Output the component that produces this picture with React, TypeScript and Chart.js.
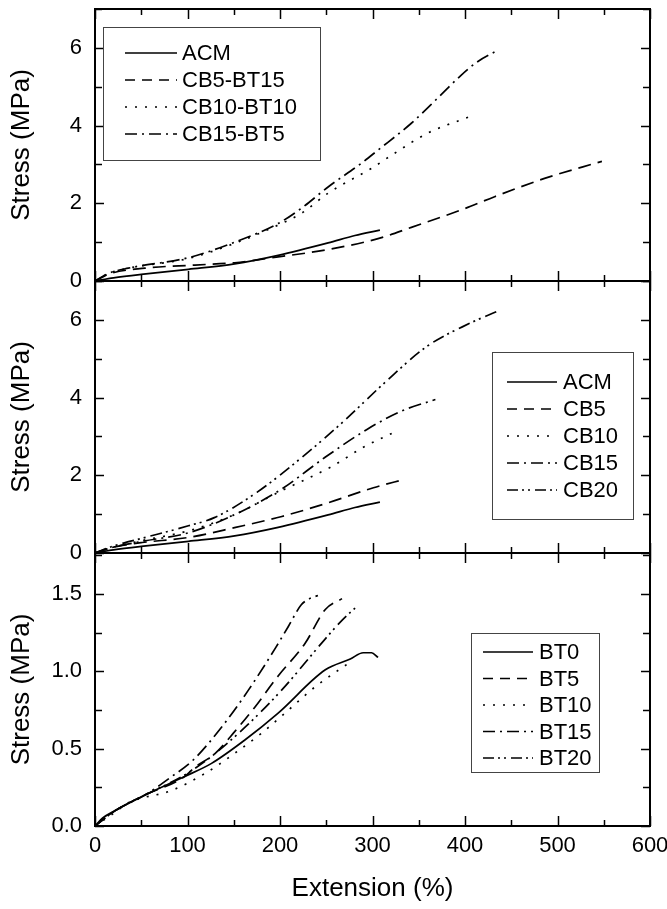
import React, { useEffect, useRef } from "react";
import { Chart, registerables } from "chart.js";

Chart.register(...registerables);

const FONT = "'Liberation Sans', Arial, Helvetica, sans-serif";

// ---------- data ----------
// shared x-axis
const xTicks = [0, 100, 200, 300, 400, 500, 600];

// Panel 1 and 2: ACM
const acmX = [0, 20, 50, 101, 151, 198, 252, 281, 308];
const acmY = [0, 0.08, 0.17, 0.3, 0.44, 0.66, 0.98, 1.17, 1.31];

// Panel 1
const cb5bt15X = [0, 15, 54, 108, 151, 198, 252, 306, 342, 396, 432, 486, 548];
const cb5bt15Y = [0, 0.18, 0.33, 0.41, 0.47, 0.62, 0.81, 1.09, 1.38, 1.83, 2.17, 2.64, 3.08];
const cb10bt10X = [0, 15, 36, 101, 151, 198, 223, 252, 299, 324, 360, 404];
const cb10bt10Y = [0, 0.2, 0.33, 0.58, 0.97, 1.44, 1.74, 2.26, 2.9, 3.29, 3.81, 4.22];
const cb15bt5X = [0, 15, 36, 101, 151, 198, 223, 252, 288, 306, 342, 371, 396, 414, 434];
const cb15bt5Y = [0, 0.2, 0.33, 0.6, 1.0, 1.48, 1.87, 2.42, 3.03, 3.37, 4.06, 4.72, 5.3, 5.65, 5.92];

// Panel 2
const cb5X = [0, 15, 28, 51, 101, 152, 202, 253, 301, 335];
const cb5Y = [0, 0.12, 0.19, 0.27, 0.4, 0.66, 0.94, 1.3, 1.68, 1.9];
const cb10X = [0, 20, 51, 101, 150, 198, 257, 290, 322];
const cb10Y = [0, 0.15, 0.32, 0.57, 0.98, 1.56, 2.24, 2.72, 3.09];
const cb15X = [0, 20, 51, 101, 152, 202, 248, 294, 331, 368];
const cb15Y = [0, 0.15, 0.3, 0.52, 1.0, 1.65, 2.45, 3.18, 3.65, 3.95];
const cb20X = [0, 20, 51, 101, 129, 175, 221, 267, 313, 359, 405, 434];
const cb20Y = [0, 0.18, 0.38, 0.7, 0.91, 1.56, 2.41, 3.35, 4.38, 5.32, 5.91, 6.21];

// Panel 3
const bt0X = [0, 8, 22, 54, 97, 126, 162, 198, 249, 276, 290, 299, 306];
const bt0Y = [0, 0.05, 0.1, 0.2, 0.32, 0.405, 0.556, 0.73, 1.01, 1.08, 1.12, 1.12, 1.09];
const bt5X = [0, 22, 54, 97, 108, 130, 151, 173, 198, 227, 249, 267];
const bt5Y = [0, 0.1, 0.2, 0.32, 0.38, 0.47, 0.61, 0.77, 0.97, 1.18, 1.4, 1.47];
const bt10X = [0, 22, 36, 83, 119, 151, 180, 213, 238, 276];
const bt10Y = [0, 0.09, 0.15, 0.23, 0.34, 0.47, 0.6, 0.77, 0.9, 1.06];
const bt15X = [0, 22, 54, 83, 105, 137, 166, 195, 209, 223, 232, 241];
const bt15Y = [0, 0.1, 0.2, 0.32, 0.42, 0.64, 0.88, 1.15, 1.29, 1.43, 1.47, 1.49];
const bt20X = [0, 22, 54, 97, 126, 166, 202, 249, 267, 285];
const bt20Y = [0, 0.1, 0.2, 0.33, 0.45, 0.66, 0.88, 1.21, 1.33, 1.43];

const labels1 = ["ACM", "CB5-BT15", "CB10-BT10", "CB15-BT5"];
const labels2 = ["ACM", "CB5", "CB10", "CB15", "CB20"];
const labels3 = ["BT0", "BT5", "BT10", "BT15", "BT20"];

// ---------- styles ----------
const DASHES: number[][] = [[], [13, 7], [2, 8], [13, 5, 2, 5], [12, 4, 2, 4, 2, 5]];
const LEGEND_DASHES: number[][] = [[], [10, 7], [2, 8], [12, 5, 2, 5], [11, 4, 2, 4, 2, 5]];

type Legend = {
  left: number; top: number; right: number; bottom: number;
  firstRow: number; rowStep: number; lineStart: number; lineEnd: number; textX: number;
};

type PanelSpec = {
  canvasTop: number; canvasHeight: number; padTop: number; plotBottom: number;
  yMax: number; yMajor: number; yMinor: number; decimals: number;
  showX: boolean; labels: string[]; xs: number[][]; ys: number[][]; legend: Legend;
};

const CANVAS_W = 720;

const framePlugin = {
  id: "frameTicks",
  afterDatasetsDraw(chart: any) {
    const o = chart.options.plugins.frameTicks;
    const { ctx, chartArea: a, scales } = chart;
    const xs = scales.x, ys = scales.y;
    ctx.save();
    ctx.strokeStyle = "#000";
    ctx.lineWidth = 1.5;
    ctx.setLineDash([]);
    const ln = (x1: number, y1: number, x2: number, y2: number) => {
      ctx.beginPath(); ctx.moveTo(x1, y1); ctx.lineTo(x2, y2); ctx.stroke();
    };
    for (let v = 0; v <= 600; v += 50) {
      const px = Math.round(xs.getPixelForValue(v)) + 0.5;
      const len = v % 100 === 0 ? 10 : 6;
      ln(px, a.bottom, px, a.bottom - len);
      ln(px, a.top, px, a.top + len);
    }
    const n = Math.round(o.yMax / o.yMinor);
    for (let i = 0; i <= n; i++) {
      const v = i * o.yMinor;
      const py = Math.round(ys.getPixelForValue(v)) + 0.5;
      const major = Math.abs(v / o.yMajor - Math.round(v / o.yMajor)) < 1e-6;
      const len = major ? 9 : 7;
      ln(a.left, py, a.left + len, py);
      ln(a.right, py, a.right - len, py);
    }
    ctx.lineWidth = 2;
    ctx.strokeRect(a.left, a.top, a.right - a.left, a.bottom - a.top);

    // legend
    const L: Legend = o.legend;
    const off = o.canvasTop;
    ctx.lineWidth = 1;
    ctx.strokeStyle = "#444";
    ctx.strokeRect(L.left + 0.5, L.top - off + 0.5, L.right - L.left, L.bottom - L.top);
    ctx.font = `22px ${FONT}`;
    ctx.fillStyle = "#000";
    ctx.textBaseline = "middle";
    ctx.textAlign = "left";
    chart.data.datasets.forEach((ds: any, i: number) => {
      const y = L.firstRow + i * L.rowStep - off;
      ctx.strokeStyle = "#000";
      ctx.lineWidth = 1.7;
      ctx.setLineDash(LEGEND_DASHES[i] || []);
      ln(L.lineStart, y, L.lineEnd, y);
      ctx.setLineDash([]);
      ctx.fillText(ds.label, L.textX, y + 1);
    });
    ctx.restore();
  },
};

function Panel({ spec }: { spec: PanelSpec }) {
  const ref = useRef<HTMLCanvasElement | null>(null);
  useEffect(() => {
    if (!ref.current) return;
    const datasets = spec.labels.map((lab, i) => ({
      label: lab,
      data: spec.xs[i].map((x, j) => ({ x, y: spec.ys[i][j] })),
      borderColor: "#000",
      borderWidth: 1.7,
      borderDash: DASHES[i],
      pointRadius: 0,
      fill: false,
      cubicInterpolationMode: "monotone" as const,
    }));
    const bottomSpace = spec.canvasHeight - spec.plotBottom;
    const chart = new Chart(ref.current, {
      type: "line",
      data: { datasets },
      plugins: [framePlugin],
      options: {
        animation: false,
        responsive: false,
        maintainAspectRatio: false,
        layout: { padding: { top: spec.padTop, right: CANVAS_W - 650, bottom: spec.showX ? 0 : bottomSpace, left: 0 } },
        plugins: {
          legend: { display: false },
          tooltip: { enabled: false },
          frameTicks: {
            yMax: spec.yMax, yMajor: spec.yMajor, yMinor: spec.yMinor,
            legend: spec.legend, canvasTop: spec.canvasTop,
          },
        } as any,
        scales: {
          x: {
            type: "linear",
            min: 0,
            max: 600,
            display: spec.showX,
            grid: { display: false, drawTicks: false },
            border: { display: false },
            afterBuildTicks: (s: any) => { s.ticks = xTicks.map((v) => ({ value: v })); },
            ticks: { color: "#000", font: { family: FONT, size: 22 }, padding: 7, maxRotation: 0, autoSkip: false },
            title: { display: true, text: "Extension (%)", color: "#000", font: { family: FONT, size: 26 }, padding: { top: 0, bottom: 5 } },
            afterFit: (s: any) => { if (spec.showX) s.height = bottomSpace; else s.height = 0; },
          },
          y: {
            type: "linear",
            min: 0,
            max: spec.yMax,
            grid: { display: false, drawTicks: false },
            border: { display: false },
            ticks: {
              stepSize: spec.yMajor,
              includeBounds: false,
              color: "#000",
              font: { family: FONT, size: 22 },
              padding: 13,
              callback: (v: any) => Number(v).toFixed(spec.decimals),
            },
            title: { display: true, text: "Stress (MPa)", color: "#000", font: { family: FONT, size: 26 }, padding: { top: 6, bottom: 0 } },
            afterFit: (s: any) => { s.width = 95; },
          },
        },
      } as any,
    });
    return () => chart.destroy();
  }, [spec]);
  return (
    <canvas
      ref={ref}
      width={CANVAS_W}
      height={spec.canvasHeight}
      style={{ position: "absolute", left: 0, top: spec.canvasTop, width: CANVAS_W, height: spec.canvasHeight }}
    />
  );
}

const panel1: PanelSpec = {
  canvasTop: -40, canvasHeight: 360, padTop: 49, plotBottom: 321,
  yMax: 7, yMajor: 2, yMinor: 1, decimals: 0, showX: false,
  labels: labels1,
  xs: [acmX, cb5bt15X, cb10bt10X, cb15bt5X],
  ys: [acmY, cb5bt15Y, cb10bt10Y, cb15bt5Y],
  legend: { left: 103, top: 27, right: 320, bottom: 160, firstRow: 53, rowStep: 27, lineStart: 125, lineEnd: 177, textX: 182 },
};

const panel2: PanelSpec = {
  canvasTop: 240, canvasHeight: 360, padTop: 41, plotBottom: 313,
  yMax: 7, yMajor: 2, yMinor: 1, decimals: 0, showX: false,
  labels: labels2,
  xs: [acmX, cb5X, cb10X, cb15X, cb20X],
  ys: [acmY, cb5Y, cb10Y, cb15Y, cb20Y],
  legend: { left: 492, top: 352, right: 633, bottom: 519, firstRow: 382, rowStep: 27, lineStart: 507, lineEnd: 557, textX: 563 },
};

const panel3: PanelSpec = {
  canvasTop: 510, canvasHeight: 399, padTop: 43, plotBottom: 316,
  yMax: 1.765, yMajor: 0.5, yMinor: 0.25, decimals: 1, showX: true,
  labels: labels3,
  xs: [bt0X, bt5X, bt10X, bt15X, bt20X],
  ys: [bt0Y, bt5Y, bt10Y, bt15Y, bt20Y],
  legend: { left: 471, top: 633, right: 599, bottom: 772, firstRow: 652, rowStep: 26.5, lineStart: 483, lineEnd: 533, textX: 539 },
};

export default function App() {
  return (
    <div style={{ position: "fixed", left: 0, top: 0, width: 667, height: 909, overflow: "hidden", background: "#fff" }}>
      <Panel spec={panel1} />
      <Panel spec={panel2} />
      <Panel spec={panel3} />
    </div>
  );
}
